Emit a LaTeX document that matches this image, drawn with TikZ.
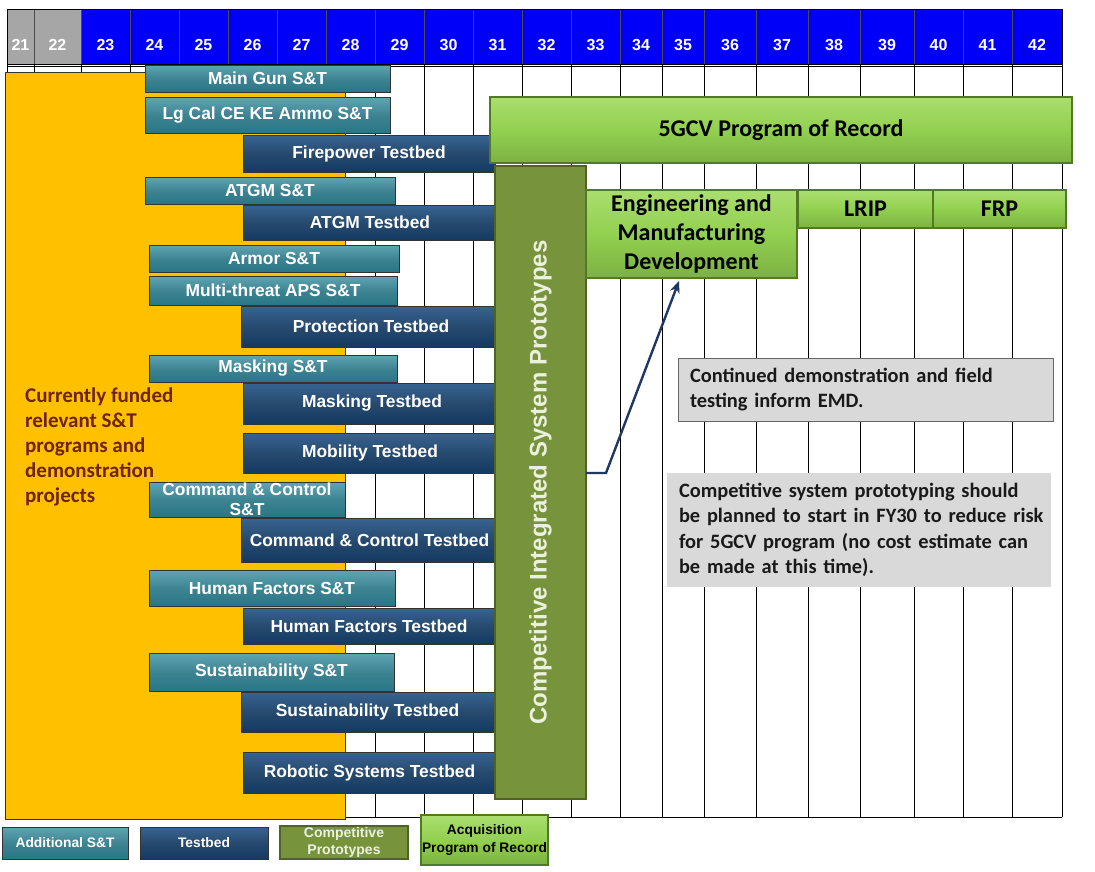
\documentclass[tikz,border=0pt]{standalone}
\usepackage{fontspec}
\setmainfont{Liberation Sans}
\newfontfamily\calib{Carlito}
\usetikzlibrary{calc,arrows.meta}
\definecolor{hdrblue}{RGB}{0,0,250}
\definecolor{hdrgrey}{RGB}{166,166,166}
\definecolor{yel}{RGB}{255,192,0}
\definecolor{yeltext}{RGB}{110,35,10}
\definecolor{tealtop}{RGB}{95,165,178}
\definecolor{tealbot}{RGB}{40,118,134}
\definecolor{bluetop}{RGB}{55,100,145}
\definecolor{bluebot}{RGB}{20,58,98}
\definecolor{olive}{RGB}{119,147,60}
\definecolor{olivedark}{RGB}{79,98,40}
\definecolor{lgreen}{RGB}{146,208,80}
\definecolor{lgreentop}{RGB}{170,222,110}
\definecolor{greendark}{RGB}{80,122,36}
\definecolor{notegrey}{RGB}{217,217,217}
\definecolor{arrowblue}{RGB}{31,56,100}
\definecolor{oltext}{RGB}{235,241,222}
\newcommand{\gbox}[7]{%
  \node[#2, anchor=north west, minimum width={#5pt-#3pt}, minimum height={#6pt-#4pt}] (#1) at (#3,#4) {#7};}
\begin{document}
\begin{tikzpicture}[x=1pt,y=-1pt,
  barbase/.style={line width=1pt, inner sep=0pt, outer sep=0pt, align=center, text=white,
    font=\fontsize{17.4}{20}\selectfont\bfseries},
  sbar/.style={barbase, draw=black!80, top color=tealtop, bottom color=tealbot, middle color=tealbot!90!white},
  tbar/.style={barbase, draw=black!80, top color=bluetop, bottom color=bluebot, middle color=bluebot!92!white},
  gbar/.style={line width=1.2pt, inner sep=0pt, outer sep=0pt, align=center, text=black,
    draw=greendark, top color=lgreentop, bottom color=lgreen!85!black, middle color=lgreen,
    font=\calib\fontsize{24}{29}\selectfont\bfseries},
  obar/.style={line width=1.2pt, inner sep=0pt, outer sep=0pt, align=center, draw=olivedark,
    fill=olive},
  legend/.style={font=\fontsize{13.8}{17}\selectfont\bfseries},
  note/.style={inner xsep=12pt, inner ysep=0pt, outer sep=0pt, align=left, fill=notegrey,
    font=\calib\fontsize{20.4}{25.5}\selectfont\bfseries, text=black!90},
  hdr/.style={font=\fontsize{16}{16}\selectfont\bfseries, text=white, inner sep=0pt},
  gridline/.style={black, line width=1pt}
]
\useasboundingbox (0,0) rectangle (1095,871);
\fill[white] (0,0) rectangle (1095,871);

% grid
\foreach \x in {7,34,81,130,179,228,277,326,375,424,473,522,571,620,662,704,756,808,860,914,963,1012,1062}
  \draw[gridline] (\x,9) -- (\x,817);
\draw[gridline] (7,817) -- (1062,817);
\draw[gridline] (7,66) -- (1062,66);

% header
\fill[hdrgrey] (7,9) rectangle (81,64);
\fill[hdrblue] (81,9) rectangle (1062,64);
\foreach \x in {34,81,130,179,228,277,326,375,424,473,522,571,620,662,704,756,808,860,914,963,1012}
  \draw[black!70, line width=0.8pt] (\x,9) -- (\x,64);
\draw[black, line width=1pt] (7,9) rectangle (1062,64);
\foreach \a/\b/\n in {7/34/21,34/81/22,81/130/23,130/179/24,179/228/25,228/277/26,277/326/27,326/375/28,375/424/29,424/473/30,473/522/31,522/571/32,571/620/33,620/662/34,662/704/35,704/756/36,756/808/37,808/860/38,860/914/39,914/963/40,963/1012/41,1012/1062/42}
  \node[hdr] (h\n) at ({(\a+\b)/2},45) {\n};

% yellow area
\fill[yel, draw=black!80, line width=1pt] (5,72) rectangle (345,819);
\node[anchor=north west, inner sep=0pt, align=left, text=yeltext,
  font=\calib\fontsize{21}{25}\selectfont\bfseries] (cur) at (25,388)
  {Currently funded\\relevant S\&T\\programs and\\demonstration\\projects};

% bars
\gbox{b1}{sbar}{145}{65}{390}{92}{Main Gun S\&T}
\gbox{b2}{sbar}{145}{97}{390}{133}{Lg Cal CE KE Ammo S\&T}
\gbox{b3}{tbar}{243}{135}{495}{172}{Firepower Testbed}
\gbox{b4}{sbar}{145}{177}{395}{204}{ATGM S\&T}
\gbox{b5}{tbar}{243}{205}{497}{240}{ATGM Testbed}
\gbox{b6}{sbar}{149}{245}{399}{272}{Armor S\&T}
\gbox{b7}{sbar}{149}{276}{397}{305}{Multi-threat APS S\&T}
\gbox{b8}{tbar}{241}{306}{501}{347}{Protection Testbed}
\gbox{b9}{sbar}{149}{355}{397}{382}{Masking S\&T}
\gbox{b10}{tbar}{243}{383}{501}{424}{Masking Testbed}
\gbox{b11}{tbar}{243}{433}{497}{473}{Mobility Testbed}
\gbox{b12}{sbar, font=\fontsize{17.4}{20.5}\selectfont\bfseries}{149}{482}{345}{517}{Command \& Control\\S\&T}
\gbox{b13}{tbar}{241}{518}{498}{562}{Command \& Control Testbed}
\gbox{b14}{sbar}{149}{570}{395}{606}{Human Factors S\&T}
\gbox{b15}{tbar}{243}{608}{495}{644}{Human Factors Testbed}
\gbox{b16}{sbar}{149}{653}{394}{691}{Sustainability S\&T}
\gbox{b17}{tbar}{241}{692}{494}{732}{Sustainability Testbed}
\gbox{b18}{tbar}{243}{752}{496}{793}{Robotic Systems Testbed}

% competitive prototypes
\gbox{cisp}{obar}{495}{166}{586}{799}{}
\node[rotate=90, text=oltext, font=\fontsize{24}{26}\selectfont\bfseries] (cisptxt) at (cisp.center) {Competitive Integrated System Prototypes};

% program of record
\gbox{por}{gbar}{490}{97}{1072}{163}{5GCV Program of Record}
\gbox{emd}{gbar}{586}{190}{797}{278}{Engineering and\\Manufacturing\\Development}
\gbox{lrip}{gbar}{798}{190}{933}{228}{LRIP}
\gbox{frp}{gbar}{933}{190}{1066}{228}{FRP}

% notes
\gbox{n1}{note, draw=black!60, line width=1pt, text width=351pt}{678}{358}{1053}{421}{\mbox{Continued demonstration and field}\\\mbox{testing inform EMD.}}
\gbox{n2}{note, text width=360pt}{667}{473}{1051}{587}{\mbox{Competitive system prototyping should}\\\mbox{be planned to start in FY30 to reduce risk}\\\mbox{for 5GCV program (no cost estimate can}\\\mbox{be made at this time).}}

% arrow
\coordinate (bend) at (606,473);
\coordinate (tip) at (679,281);
\draw[arrowblue, line width=2.4pt, -{Stealth[length=12pt,width=10pt]}] (cisp.east |- bend) -- (bend) -- (tip);

% legend
\gbox{ladd}{sbar, legend}{2}{827}{128}{859}{Additional S\&T}
\gbox{ltb}{tbar, legend}{140}{827}{268}{859}{Testbed}
\begin{scope}
\clip (279,825) rectangle (410,861);
\gbox{lcp}{obar, legend, text=oltext, font=\fontsize{14}{17}\selectfont\bfseries}{280}{826}{408}{859}{Competitive\\Prototypes}
\end{scope}
\gbox{lacq}{gbar, legend, font=\fontsize{13.8}{17.5}\selectfont\bfseries}{421}{815}{548}{865}{Acquisition\\Program of Record}
\end{tikzpicture}
\end{document}
